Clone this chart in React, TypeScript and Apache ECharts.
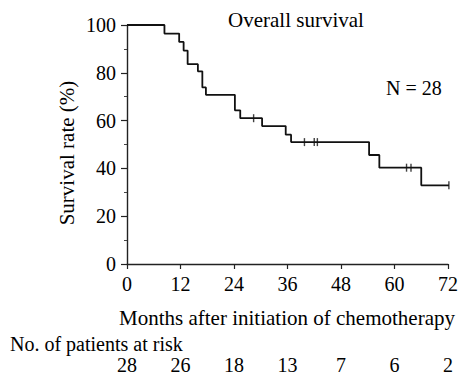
import React, { useEffect, useRef } from "react";
import * as echarts from "echarts";

const months = [0, 8.4, 11.7, 12.7, 13.6, 15.9, 16.9, 17.7, 24.2, 25.4, 30.3, 35.6, 36.8, 54.3, 56.6, 66.0, 72.2];
const survival = [100, 96.4, 92.9, 89.3, 83.6, 80.6, 73.9, 70.8, 64.3, 61.0, 57.7, 54.1, 51.0, 45.6, 40.3, 32.9, 32.9];
const censorMonths = [28.4, 39.8, 42.0, 42.7, 62.7, 63.7, 72.2];
const censorSurvival = [61.0, 51.0, 51.0, 51.0, 40.3, 40.3, 32.9];
const xTicks = [0, 12, 24, 36, 48, 60, 72];
const riskCounts = [28, 26, 18, 13, 7, 6, 2];
const yTicks = [0, 20, 40, 60, 80, 100];

const FONT = "Liberation Serif";

export default function App() {
  const ref = useRef<HTMLDivElement>(null);
  useEffect(() => {
    if (!ref.current) return;
    const chart = echarts.init(ref.current, undefined, { renderer: "svg" });
    const curve = months.map((m, i) => [m, survival[i]]);
    const censors = censorMonths.map((m, i) => [m, censorSurvival[i]]);
    const axisLine = { show: true, lineStyle: { color: "#222", width: 1.4 } };
    const txt = (size: number) => ({ fontFamily: FONT, fontSize: size, fill: "#000" });
    chart.setOption({
      animation: false,
      backgroundColor: "#fff",
      textStyle: { fontFamily: FONT, color: "#000" },
      grid: { left: 127, right: 13, top: 25, bottom: 110, containLabel: false, outerBoundsMode: "none" },
      xAxis: [
        {
          type: "value",
          min: xTicks[0],
          max: xTicks[xTicks.length - 1],
          interval: 12,
          axisLine,
          axisTick: { show: true, length: 5, lineStyle: { color: "#222", width: 1.2 } },
          axisLabel: { fontSize: 20, color: "#000", fontFamily: FONT, margin: 10 },
          splitLine: { show: false },
        },
        {
          type: "value",
          position: "bottom",
          offset: 93,
          min: xTicks[0],
          max: xTicks[xTicks.length - 1],
          interval: 12,
          axisLine: { show: false },
          axisTick: { show: false },
          axisLabel: {
            fontSize: 20,
            lineHeight: 16,
            color: "#000",
            fontFamily: FONT,
            margin: 0,
            formatter: (v: number) => {
              const idx = xTicks.indexOf(v);
              return idx >= 0 ? String(riskCounts[idx]) : "";
            },
          },
          splitLine: { show: false },
        },
      ],
      yAxis: {
        type: "value",
        min: yTicks[0],
        max: yTicks[yTicks.length - 1],
        interval: 20,
        axisLine,
        axisTick: { show: true, length: 6, lineStyle: { color: "#222", width: 1.2 } },
        minorTick: { show: true, splitNumber: 2, length: 3, lineStyle: { color: "#444", width: 1 } },
        axisLabel: { fontSize: 20, color: "#000", fontFamily: FONT, margin: 11 },
        splitLine: { show: false },
      },
      series: [
        {
          type: "line",
          data: curve,
          step: "end",
          symbol: "none",
          clip: false,
          lineStyle: { color: "#111", width: 1.8 },
        },
        {
          type: "scatter",
          data: censors,
          symbol: "rect",
          symbolSize: [1.4, 8],
          clip: false,
          itemStyle: { color: "#111" },
        },
      ],
      graphic: [
        {
          type: "text",
          x: 228,
          y: 20,
          style: { text: "Overall survival", ...txt(21), verticalAlign: "middle" },
        },
        {
          type: "text",
          x: 386,
          y: 88,
          style: { text: "N = 28", ...txt(20), verticalAlign: "middle" },
        },
        {
          type: "text",
          x: 67,
          y: 153,
          rotation: Math.PI / 2,
          style: { text: "Survival rate (%)", ...txt(21), align: "center", verticalAlign: "middle" },
        },
        {
          type: "text",
          x: 287,
          y: 318,
          style: {
            text: "Months after initiation of chemotherapy",
            ...txt(21),
            align: "center",
            verticalAlign: "middle",
          },
        },
        {
          type: "text",
          x: 10,
          y: 344,
          style: { text: "No. of patients at risk", ...txt(20), align: "left", verticalAlign: "middle" },
        },
      ],
    });
    return () => chart.dispose();
  }, []);
  return (
    <div
      ref={ref}
      style={{ position: "fixed", left: 0, top: 0, width: 461, height: 374, background: "#fff" }}
    />
  );
}
